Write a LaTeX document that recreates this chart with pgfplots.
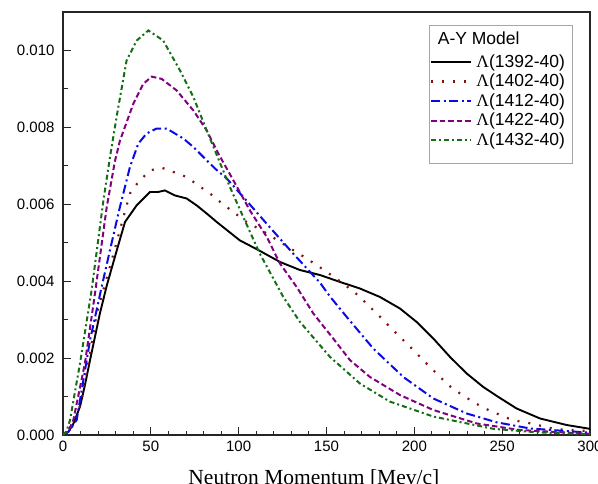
\documentclass[border=0pt]{standalone}
\usepackage{fontspec}
\setmainfont{Liberation Sans}
\newfontfamily\timesfont{Liberation Serif}
\usepackage{pgfplots}
\pgfplotsset{compat=1.18}

\definecolor{cBrown}{RGB}{130,20,20}
\definecolor{cBlue}{RGB}{10,10,230}
\definecolor{cPurple}{RGB}{128,0,128}
\definecolor{cGreen}{RGB}{20,110,20}

\begin{document}
\begin{tikzpicture}

\begin{axis}[
    at={(63bp,49bp)},
    anchor=south west,
    scale only axis,
    width=527bp,
    height=423bp,
    xmin=0, xmax=300,
    ymin=0, ymax=0.011,
    xtick={0,50,100,150,200,250,300},
    minor x tick num=4,
    ytick={0,0.002,0.004,0.006,0.008,0.010},
    minor y tick num=1,
    tick align=inside,
    tick pos=left,
    major tick length=8bp,
    minor tick length=4.5bp,
    every tick/.style={black!85, line width=0.9bp},
    axis line style={black!85, line width=1.2bp},
    scaled y ticks=false,
    /pgf/number format/assume math mode=true,
    yticklabel style={/pgf/number format/fixed, /pgf/number format/fixed zerofill,
        /pgf/number format/precision=3, xshift=-5bp},
    tick label style={font=\fontsize{15bp}{18bp}\selectfont},
    xticklabel style={yshift=-3bp},
    xlabel={\timesfont Neutron Momentum [Mev/c]},
    xlabel style={at={(axis description cs:0.476,0)}, anchor=base, yshift=-49.5bp,
        inner sep=0pt, font=\fontsize{21.5bp}{24bp}\selectfont},
    legend style={
        at={(axis description cs:0.6964,0.9008)},
        anchor=north west,
        draw=none, fill=none,
        inner sep=0pt,
        font=\fontsize{17.5bp}{20bp}\selectfont,
        nodes={inner sep=0pt, text height=13bp, text depth=2.5bp},
        row sep=4.1bp,
        column sep=4bp,
    },
    legend cell align=left,
    legend image code/.code={\draw[#1] (0bp,0bp) -- (40bp,0bp);},
]

% 1392-40 (black solid)
\addplot[black, line width=1.9bp] coordinates {
    (0,0) (3,0.00008) (6,0.0003) (9.7,0.00074) (12.5,0.0013) (15.4,0.00195)
    (21,0.00316) (25,0.0039) (30.6,0.0048) (35.3,0.00554) (41.9,0.00597)
    (49.5,0.00632) (54.2,0.00632) (58,0.00636) (63.7,0.00623) (70.4,0.00615)
    (76.1,0.00597) (81.8,0.00576) (87.5,0.00554) (100.7,0.00506) (111.2,0.00481)
    (123.5,0.0045) (134.9,0.00429) (146.3,0.00416) (157.7,0.00398) (169,0.00381)
    (180.4,0.00359) (191.8,0.00329) (201.3,0.00294) (210.8,0.00251) (220.3,0.00203)
    (229.8,0.0016) (239.2,0.00125) (247.8,0.00099) (258.2,0.00069) (271.5,0.00043)
    (286.7,0.00026) (300,0.00016)
};
\addlegendentry{{\timesfont Λ}(1392-40)}

% 1402-40 (brown dotted)
\addplot[cBrown, line width=2.2bp, dash pattern=on 2bp off 9bp] coordinates {
    (0,0) (3,0.0001) (6.8,0.0003) (10.5,0.0009) (14.4,0.00186) (19.2,0.00316)
    (22.5,0.0037) (26.7,0.00437) (33.4,0.0055) (38.1,0.00628) (42.9,0.00658)
    (49.5,0.00688) (56.2,0.00695) (62.8,0.00684) (70.4,0.00671) (77,0.00649)
    (83.7,0.00628) (90.3,0.00603) (96.9,0.0058) (104.5,0.00554) (111.2,0.00537)
    (117.8,0.00519) (123.5,0.00502) (138.7,0.00459) (145.3,0.00439) (152,0.00418)
    (159.5,0.00394) (166.2,0.0037) (172.8,0.00342) (179.5,0.00312) (186.1,0.00281)
    (192.7,0.00251) (199.4,0.00221) (206,0.0019) (212.7,0.0016) (219.3,0.0013)
    (226,0.00108) (233.5,0.00086) (240.2,0.00069) (246.8,0.00056) (253.5,0.00043)
    (260.1,0.00035) (267.7,0.00029) (275.3,0.0002) (281,0.00015) (289.5,0.00013)
    (300,0.0001)
};
\addlegendentry{{\timesfont Λ}(1402-40)}

% 1412-40 (blue dash dot)
\addplot[cBlue, line width=2bp, dash pattern=on 9bp off 3.5bp on 2bp off 3.5bp] coordinates {
    (0,0) (3,0.00008) (7.8,0.00039) (11.5,0.0014) (15.4,0.00247) (22,0.00385)
    (26.7,0.0048) (32.4,0.00593) (38.1,0.00697) (42.9,0.00758) (47.6,0.00784)
    (53.3,0.00797) (59,0.00797) (68.5,0.00771) (74.2,0.00749) (79.9,0.00723)
    (86.5,0.00693) (93.2,0.00667) (102.6,0.00619) (116.8,0.00545) (131,0.00472)
    (146.3,0.00396) (152,0.0036) (161.5,0.00307) (176.6,0.00225) (193.7,0.00151)
    (210.8,0.00095) (229.8,0.00056) (246.8,0.00033) (265.8,0.00017) (290.4,0.00009)
    (300,0.00006)
};
\addlegendentry{{\timesfont Λ}(1412-40)}

% 1422-40 (purple dashed)
\addplot[cPurple, line width=2bp, dash pattern=on 5.5bp off 3bp] coordinates {
    (0,0) (3,0.0001) (5.9,0.00039) (12.5,0.00187) (18.2,0.00368) (24.9,0.00593)
    (29.6,0.00713) (32.4,0.00765) (40,0.00861) (45.7,0.00913) (50.5,0.00932)
    (56.2,0.00926) (64.7,0.00896) (74.2,0.00844) (81.8,0.00792) (88.4,0.00732)
    (97,0.00662) (106.4,0.00584) (116,0.00515) (123.5,0.00446) (133,0.00385)
    (142.5,0.00316) (153.8,0.00251) (163.3,0.00195) (174.7,0.00151) (191.8,0.00104)
    (210.8,0.00065) (235.5,0.0003) (260,0.00013) (300,0.00003)
};
\addlegendentry{{\timesfont Λ}(1422-40)}

% 1432-40 (green dash dot)
\addplot[cGreen, line width=2bp, dash pattern=on 5bp off 3bp on 2bp off 3bp] coordinates {
    (0,0) (2,0.0001) (4,0.00039) (9.7,0.00187) (16.3,0.00377) (23,0.0061)
    (27,0.0073) (31,0.0084) (36.2,0.00974) (42,0.01026) (48.6,0.01052) (57,0.01026)
    (66.6,0.00948) (74.2,0.00879) (81.8,0.00792) (95,0.00645) (102.6,0.00567)
    (112,0.00472) (125.4,0.00359) (134.9,0.00294) (152,0.00203) (169,0.00134)
    (186,0.00087) (210.8,0.00048) (245,0.00016) (270,0.00007) (300,0.00002)
};
\addlegendentry{{\timesfont Λ}(1432-40)}

% legend frame and title
\draw[gray!70, line width=0.8bp]
    (axis description cs:0.6945,0.6423) rectangle (axis description cs:0.9672,0.9693);
\node[anchor=base west, inner sep=0pt, font=\fontsize{17.5bp}{20bp}\selectfont]
    at (axis description cs:0.711,0.9243) {A-Y Model};

\end{axis}

\pgfresetboundingbox
\path (0,0) rectangle (598bp,484bp);
\end{tikzpicture}
\end{document}
